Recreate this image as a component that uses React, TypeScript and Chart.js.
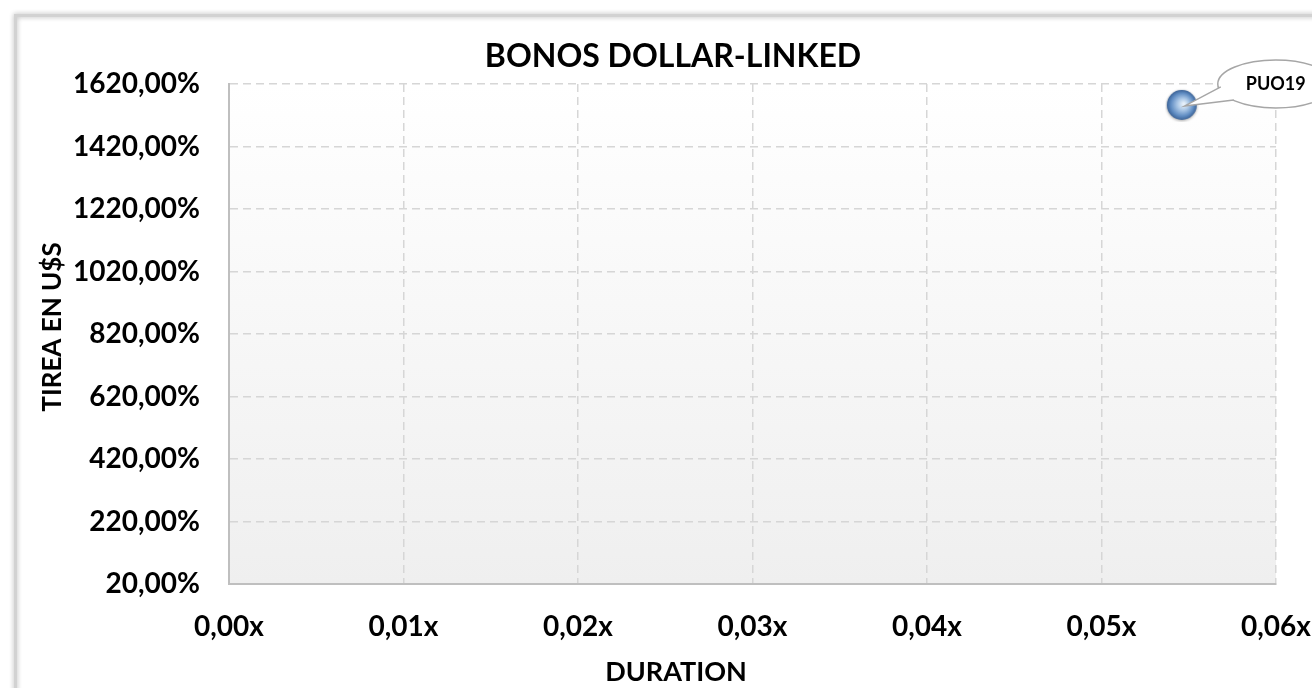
import React, { useEffect, useRef } from "react";
import { Chart, registerables } from "chart.js";

Chart.register(...registerables);

const chartTitle = "BONOS DOLLAR-LINKED";
const xAxisTitle = "DURATION";
const yAxisTitle = "TIREA EN U$S";

const bondNames = ["PUO19"];
const durations = [0.0546];
const yields = [1553];

const xTicks = [0, 0.01, 0.02, 0.03, 0.04, 0.05, 0.06];
const yTicks = [20, 220, 420, 620, 820, 1020, 1220, 1420, 1620];

const FONT = "Lato";

function makeSphere(): HTMLCanvasElement {
  const s = 34;
  const c = document.createElement("canvas");
  c.width = s;
  c.height = s;
  const g = c.getContext("2d")!;
  const r = 15;
  const cx = s / 2;
  const cy = s / 2;
  g.save();
  g.shadowColor = "rgba(0,0,0,0.35)";
  g.shadowBlur = 3;
  g.shadowOffsetY = 1;
  const grad = g.createRadialGradient(cx + 2, cy - 1, 1, cx, cy, r);
  grad.addColorStop(0, "#e6f0fa");
  grad.addColorStop(0.35, "#a9c6e6");
  grad.addColorStop(0.75, "#5f8cc2");
  grad.addColorStop(1, "#3b6296");
  g.fillStyle = grad;
  g.beginPath();
  g.arc(cx, cy, r, 0, Math.PI * 2);
  g.fill();
  g.restore();
  return c;
}

const decorPlugin = {
  id: "decor",
  beforeDraw(chart: any) {
    const { ctx, chartArea, width, height } = chart;
    ctx.save();
    ctx.fillStyle = "#ffffff";
    ctx.fillRect(0, 0, width, height);
    ctx.shadowColor = "rgba(0,0,0,0.3)";
    ctx.shadowBlur = 5;
    ctx.strokeStyle = "#d2d2d2";
    ctx.lineWidth = 3;
    ctx.strokeRect(15.5, 15.5, width + 40, height + 40);
    ctx.restore();
    ctx.save();
    const g = ctx.createLinearGradient(0, chartArea.top, 0, chartArea.bottom);
    g.addColorStop(0, "#ffffff");
    g.addColorStop(1, "#efefef");
    ctx.fillStyle = g;
    ctx.fillRect(chartArea.left, chartArea.top, chartArea.right - chartArea.left, chartArea.bottom - chartArea.top);
    ctx.restore();
  },
  afterDraw(chart: any) {
    const { ctx } = chart;
    ctx.save();
    ctx.fillStyle = "#000000";
    ctx.textAlign = "center";
    ctx.textBaseline = "middle";
    ctx.font = `bold 32px ${FONT}`;
    ctx.fillText(chartTitle, 673, 57);
    ctx.font = `bold 27px ${FONT}`;
    ctx.fillText(xAxisTitle, 676, 672);
    ctx.font = `bold 26px ${FONT}`;
    ctx.translate(53, 327);
    ctx.rotate(-Math.PI / 2);
    ctx.fillText(yAxisTitle, 0, 0);
    ctx.restore();
  },
  afterDatasetsDraw(chart: any) {
    const { ctx } = chart;
    const meta = chart.getDatasetMeta(0);
    meta.data.forEach((pt: any, i: number) => {
      const px = pt.x;
      const py = pt.y;
      const ex = px + 94;
      const ey = py - 21;
      const rx = 58;
      const ry = 24;
      ctx.save();
      ctx.lineWidth = 1.5;
      ctx.strokeStyle = "#a6a6a6";
      ctx.fillStyle = "#ffffff";
      ctx.beginPath();
      ctx.ellipse(ex, ey, rx, ry, 0, 0, Math.PI * 2);
      ctx.fill();
      ctx.stroke();
      const b1x = ex - 55, b1y = ey + 3;
      const b2x = ex - 42, b2y = ey + 16;
      const tx = px + 3, ty = py + 1;
      ctx.beginPath();
      ctx.moveTo(b1x, b1y);
      ctx.lineTo(tx, ty);
      ctx.lineTo(b2x, b2y);
      ctx.closePath();
      ctx.fill();
      ctx.beginPath();
      ctx.moveTo(b1x, b1y);
      ctx.lineTo(tx, ty);
      ctx.lineTo(b2x, b2y);
      ctx.stroke();
      ctx.fillStyle = "#000000";
      ctx.font = `bold 18px ${FONT}`;
      ctx.textAlign = "center";
      ctx.textBaseline = "middle";
      ctx.fillText(bondNames[i], ex, ey);
      ctx.restore();
    });
  },
};

const fmt = (v: number, suffix: string) => v.toFixed(2).replace(".", ",") + suffix;

export default function App() {
  const ref = useRef<HTMLCanvasElement | null>(null);
  useEffect(() => {
    document.body.style.margin = "0";
    const sphere = makeSphere();
    const chart = new Chart(ref.current!, {
      type: "scatter",
      data: {
        datasets: [
          {
            label: "Bonos",
            data: durations.map((d, i) => ({ x: d, y: yields[i] })),
            pointStyle: sphere as any,
            pointRadius: 15,
            pointHoverRadius: 15,
          },
        ],
      },
      options: {
        animation: false,
        responsive: true,
        maintainAspectRatio: false,
        layout: { padding: { left: 0, right: 36, top: 84, bottom: 0 } },
        plugins: {
          legend: { display: false },
          tooltip: { enabled: false },
          title: { display: false },
        },
        scales: {
          x: {
            type: "linear",
            min: 0,
            max: 0.06,
            afterFit: (s: any) => {
              s.height = 104;
              s.paddingLeft = 0;
              s.paddingRight = 0;
            },
            afterBuildTicks: (s: any) => {
              s.ticks = xTicks.map((v) => ({ value: v }));
            },
            ticks: {
              padding: 26,
              color: "#000000",
              font: { family: FONT, size: 28, weight: "bold" },
              callback: (v: any) => fmt(Number(v), "x"),
            },
            grid: { color: "#d6d6d6", lineWidth: 1.5, drawTicks: false },
            border: { display: true, color: "#bfbfbf", width: 2, dash: [8, 5] },
          },
          y: {
            type: "linear",
            min: 20,
            max: 1620,
            afterFit: (s: any) => {
              s.width = 229;
              s.paddingTop = 0;
              s.paddingBottom = 0;
            },
            afterBuildTicks: (s: any) => {
              s.ticks = yTicks.map((v) => ({ value: v }));
            },
            ticks: {
              padding: 29,
              color: "#000000",
              font: { family: FONT, size: 28, weight: "bold" },
              callback: (v: any) => fmt(Number(v), "%"),
            },
            grid: { color: "#d6d6d6", lineWidth: 1.5, drawTicks: false },
            border: { display: true, color: "#bfbfbf", width: 2, dash: [8, 5] },
          },
        },
      },
      plugins: [decorPlugin],
    });
    return () => chart.destroy();
  }, []);
  return (
    <div style={{ position: "absolute", left: 0, top: 0, width: 1312, height: 688 }}>
      <canvas ref={ref} />
    </div>
  );
}
